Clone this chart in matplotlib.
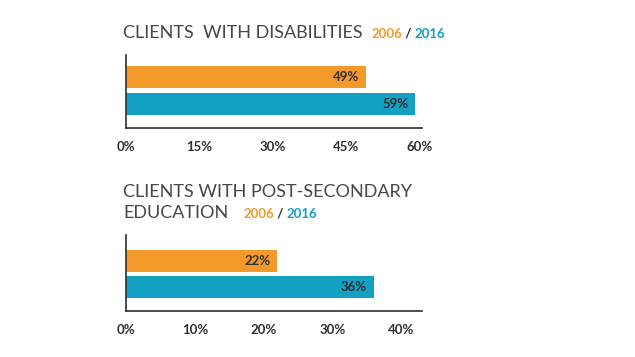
import matplotlib.pyplot as plt

years = ["2006", "2016"]
disab_vals = [49, 59]
disab_ticks = [0, 15, 30, 45, 60]
edu_vals = [22, 36]
edu_ticks = [0, 10, 20, 30, 40]

orange = "#F39A2B"
blue = "#12A0C3"
title_col = "#474747"
dark = "#2f2f2f"

plt.rcParams['font.family'] = ['Lato', 'DejaVu Sans']

W, H = 635, 357
fig = plt.figure(figsize=(W / 100, H / 100), dpi=100)
fig.patch.set_facecolor("white")


def fx(x):
    return x / W


def fy(y):
    return 1 - y / H


def draw_panel(top, bottom, vals, ticks, xmax, ylim):
    ax = fig.add_axes([fx(126), fy(bottom), fx(422) - fx(126), fy(top) - fy(bottom)])
    ax.barh(range(len(vals)), vals, height=0.83, color=[orange, blue])
    for i, v in enumerate(vals):
        ax.annotate(f"{v}%", (v, i), xytext=(-5, 0), textcoords="offset points",
                    ha="right", va="center", fontsize=9.5, fontweight="bold", color=dark)
    ax.set_xlim(0, xmax)
    ax.set_ylim(*ylim)
    ax.set_xticks(ticks)
    ax.set_xticklabels([f"{t}%" for t in ticks], fontsize=9.5, fontweight="bold", color=dark)
    ax.tick_params(axis="x", length=0, pad=9)
    ax.set_yticks([])
    for s in ["top", "right"]:
        ax.spines[s].set_visible(False)
    for s in ["left", "bottom"]:
        ax.spines[s].set_color(dark)
        ax.spines[s].set_linewidth(1.2)
    return ax


def year_label(x, y):
    t1 = fig.text(fx(x), fy(y), years[0], color=orange, fontsize=9.5, fontweight="bold", va="center")
    t2 = fig.text(0, 0, " / ", fontsize=9.5, fontweight="bold", color="#333333", va="center")
    t3 = fig.text(0, 0, years[1], fontsize=9.5, fontweight="bold", color=blue, va="center")
    fig.canvas.draw()
    r = fig.canvas.get_renderer()
    bb = t1.get_window_extent(r)
    t2.set_position((bb.x1 / W, fy(y)))
    bb = t2.get_window_extent(r)
    t3.set_position((bb.x1 / W, fy(y)))


# panel 1
fig.text(fx(123), fy(33), "CLIENTS  WITH DISABILITIES", fontsize=13, color=title_col,
         va="center")
year_label(371, 34)
draw_panel(55, 128, disab_vals, disab_ticks, 60.4, (1.92, -0.83))

# panel 2
fig.text(fx(123), fy(192), "CLIENTS WITH POST-SECONDARY", fontsize=13, color=title_col,
         va="center")
fig.text(fx(123), fy(213), "EDUCATION", fontsize=13, color=title_col,
         va="center")
year_label(243, 214)
draw_panel(235, 311, edu_vals, edu_ticks, 43, (1.89, -0.98))

fig.savefig("out.png", dpi=100, facecolor="white")
